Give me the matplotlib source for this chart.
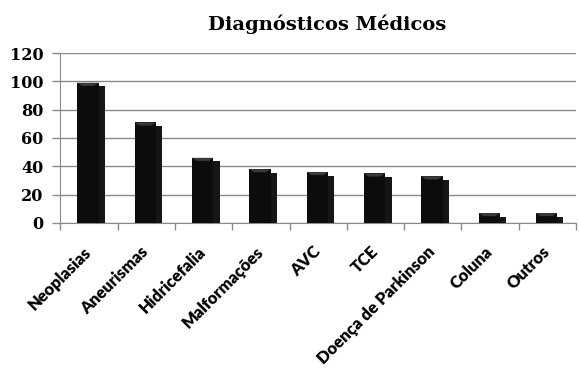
import matplotlib.pyplot as plt
from matplotlib.patches import Polygon
import numpy as np

categories = ['Neoplasias', 'Aneurismas', 'Hidricefalia', 'Malformações', 'AVC',
              'TCE', 'Doença de Parkinson', 'Coluna', 'Outros']
values = [99, 71, 46, 38, 36, 35, 33, 7, 7]
yticks = [0, 20, 40, 60, 80, 100, 120]

fig = plt.figure(figsize=(5.79, 3.76), dpi=100)
ax = fig.add_axes([0.104, 0.407, 0.891, 0.452])

x = np.arange(len(categories))
off = 0.04  # bars sit a bit right of the category centre
front_w = 0.37
side_w = 0.11
step = 2.5

# front face
ax.bar(x + off - 0.24, values, width=front_w, align='edge', color='#0c0c0c', zorder=3)
# right side, a bit lower
ax.bar(x + off - 0.24 + front_w, [v - step for v in values], width=side_w, align='edge',
       color='#161616', zorder=3)
# shadow lip under bars
ax.bar(x + off - 0.16, [-1.0] * len(x), width=0.40, align='edge', color='#222222', zorder=2)

# bevel on top of the front face
for xi, v in zip(x, values):
    x0 = xi + off - 0.24
    x1 = x0 + front_w
    tri = Polygon([(x0, v), (x1, v), (x1 - 0.08, v - 2.2), (x0 + 0.08, v - 2.2)],
                  closed=True, color='#3a3a3a', zorder=4, lw=0)
    ax.add_patch(tri)

ax.set_xlim(-0.5, len(categories) - 0.5)
ax.set_ylim(0, 120)
ax.set_yticks(yticks)
ax.set_yticklabels([str(t) for t in yticks], fontsize=11.5, fontweight='bold',
                   family='DejaVu Serif')
ax.yaxis.grid(True, color='#8a8a8a', lw=1.0, zorder=0)
ax.set_axisbelow(True)

ax.set_xticks(np.arange(len(categories) + 1) - 0.5, minor=True)
ax.set_xticks(x)
ax.set_xticklabels(categories, rotation=45, ha='right', va='center', rotation_mode='anchor',
                   fontsize=12, fontweight='heavy', family='Lato')
ax.tick_params(axis='x', which='major', length=0, pad=19)
ax.tick_params(axis='x', which='minor', length=5, color='#8a8a8a', width=1)
ax.tick_params(axis='y', length=6, color='#8a8a8a', width=1, pad=6)

for s in ['top', 'right']:
    ax.spines[s].set_visible(False)
ax.spines['left'].set_color('#8a8a8a')
ax.spines['bottom'].set_color('#8a8a8a')

fig.text(0.565, 0.936, 'Diagnósticos Médicos', ha='center', va='center',
         fontsize=14, fontweight='bold', family='DejaVu Serif')

fig.savefig('out.png', dpi=100)
